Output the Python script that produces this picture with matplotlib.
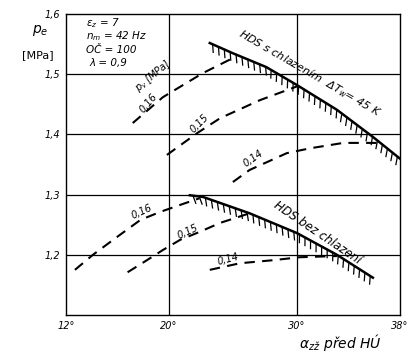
import numpy as np
import matplotlib
matplotlib.use("Agg")
import matplotlib.pyplot as plt
import matplotlib.patheffects as pe

# x = predstih zazehu [deg], y = pe [MPa]
up16_x = [17.2, 19.55, 22.66, 25.0, 25.3]
up16_y = [1.419, 1.462, 1.502, 1.527, 1.532]
up15_x = [19.86, 22.2, 24.0, 27.1, 30.0]
up15_y = [1.366, 1.402, 1.427, 1.457, 1.480]
up14_x = [25.0, 26.3, 29.2, 31.0, 33.6, 36.7]
up14_y = [1.321, 1.341, 1.369, 1.377, 1.386, 1.386]
up_lim_x = [23.2, 25.0, 27.6, 30.0, 33.1, 35.9, 38.0]
up_lim_y = [1.552, 1.535, 1.512, 1.482, 1.441, 1.396, 1.360]

lo16_x = [12.7, 14.1, 16.0, 17.8, 19.3, 20.9, 22.4]
lo16_y = [1.175, 1.200, 1.230, 1.258, 1.271, 1.283, 1.294]
lo15_x = [16.8, 18.3, 19.55, 20.9, 22.4, 24.0, 26.3]
lo15_y = [1.171, 1.191, 1.208, 1.225, 1.238, 1.253, 1.269]
lo14_x = [23.2, 25.55, 28.1, 30.2, 33.1]
lo14_y = [1.175, 1.186, 1.191, 1.196, 1.198]
lo_lim_x = [21.65, 22.7, 26.3, 30.0, 33.1, 35.9]
lo_lim_y = [1.299, 1.296, 1.269, 1.236, 1.200, 1.162]

xticks = [12, 20, 30, 38]
xlabels = ["12°", "20°", "30°", "38°"]
yticks = [1.2, 1.3, 1.4, 1.5, 1.6]
ylabels = ["1,2", "1,3", "1,4", "1,5", "1,6"]

fig = plt.figure(figsize=(4.2, 3.59), dpi=100)
ax = fig.add_axes([0.157, 0.1226, 0.795, 0.838])
ax.set_xlim(12, 38)
ax.set_ylim(1.1, 1.6)

for x in [20, 30]:
    ax.axvline(x, color="k", lw=0.9)
for y in [1.2, 1.3, 1.4, 1.5]:
    ax.axhline(y, color="k", lw=0.9)
for s in ax.spines.values():
    s.set_linewidth(1.0)

ax.set_xticks(xticks)
ax.set_xticklabels(xlabels, style="italic", fontsize=7)
ax.set_yticks(yticks)
ax.set_yticklabels(ylabels, style="italic", fontsize=7)
ax.tick_params(length=0, pad=4)

dash = dict(color="k", lw=1.5, ls=(0, (5, 3.5)))
for xs, ys in [(up16_x, up16_y), (up15_x, up15_y), (up14_x, up14_y),
               (lo16_x, lo16_y), (lo15_x, lo15_y), (lo14_x, lo14_y)]:
    ax.plot(xs, ys, **dash)

hatch = [pe.withTickedStroke(angle=-62, spacing=4.5, length=1.3, linewidth=0.9)]
ax.plot(up_lim_x, up_lim_y, color="k", lw=1.8, path_effects=hatch)
ax.plot(lo_lim_x, lo_lim_y, color="k", lw=1.8, path_effects=hatch)

lab = dict(fontsize=7, style="italic", ha="center", va="center")
ax.text(18.4, 1.452, "0,16", rotation=50, **lab)
ax.text(18.8, 1.497, "p$_v$ [MPa]", rotation=40, **lab)
ax.text(22.4, 1.418, "0,15", rotation=45, **lab)
ax.text(26.6, 1.360, "0,14", rotation=35, **lab)
ax.text(17.9, 1.272, "0,16", rotation=25, **lab)
ax.text(21.5, 1.239, "0,15", rotation=25, **lab)
ax.text(24.6, 1.192, "0,14", rotation=15, **lab)

ax.text(31.0, 1.502, "HDS s chlazením  ΔT$_w$= 45 K", rotation=-30,
        fontsize=8, style="italic", ha="center", va="center")
ax.text(31.6, 1.237, "HDS bez chlazení", rotation=-34,
        fontsize=8.5, style="italic", ha="center", va="center")

note = dict(fontsize=7.5, style="italic", ha="left", va="center")
ax.text(13.6, 1.585, "ε$_z$ = 7", **note)
ax.text(13.6, 1.563, "n$_m$ = 42 Hz", **note)
ax.text(13.6, 1.540, "OČ = 100", **note)
ax.text(13.8, 1.519, "λ = 0,9", **note)

fig.text(0.095, 0.916, "p$_e$", fontsize=10, style="italic", ha="center", va="center")
fig.text(0.09, 0.847, "[MPa]", fontsize=8, ha="center", va="center")
fig.text(0.81, 0.045, "α$_{zž}$ před HÚ", fontsize=10, style="italic",
         ha="center", va="center")

fig.savefig("out.png", dpi=100)
